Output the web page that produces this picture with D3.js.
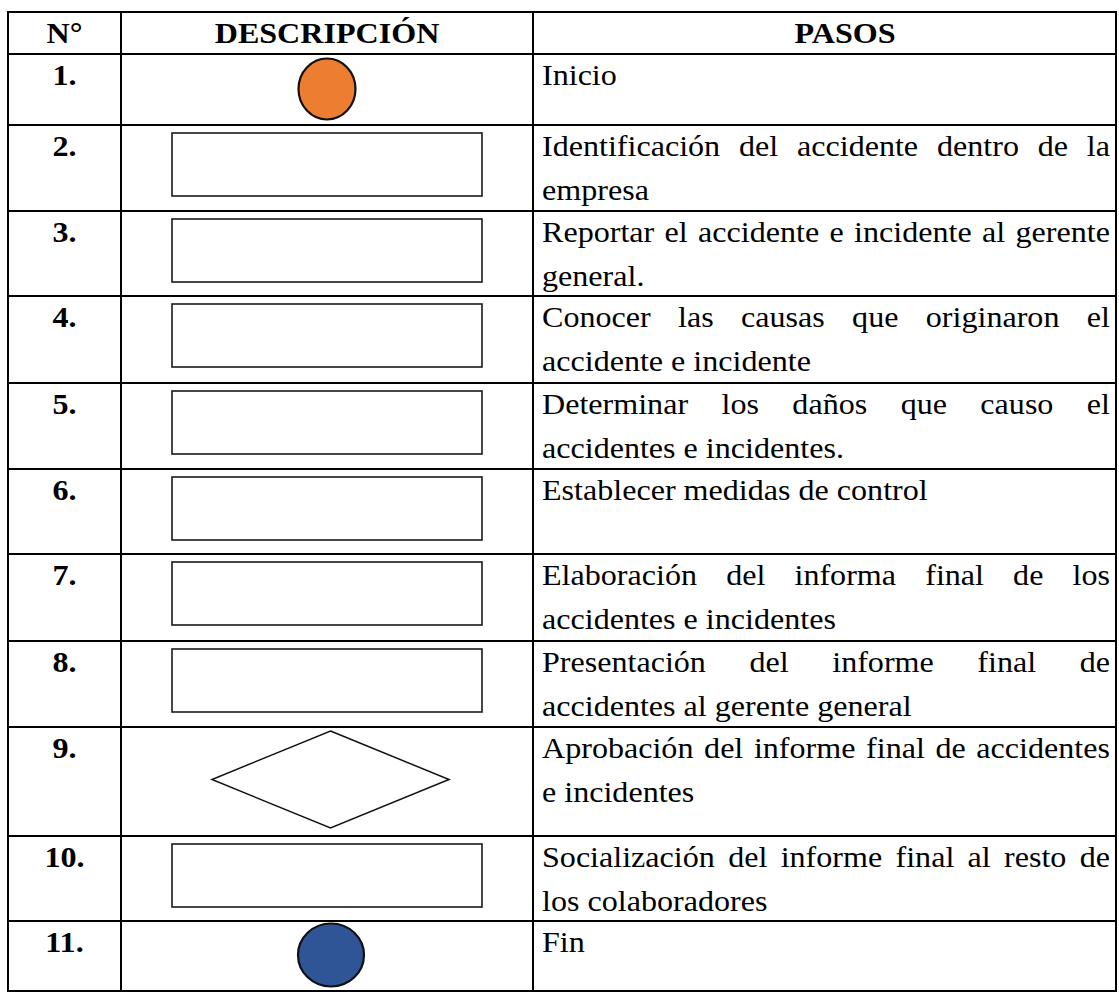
<!DOCTYPE html>
<html>
<head>
<meta charset="utf-8">
<script src="https://cdn.jsdelivr.net/npm/d3@7"></script>
<style>
  html, body { margin: 0; padding: 0; background: #ffffff; }
  svg { display: block; }
</style>
</head>
<body>
<div id="chart"></div>
<script>
// ---------------- DATA ----------------
const headers = ["N°", "DESCRIPCIÓN", "PASOS"];
const steps = ["1.", "2.", "3.", "4.", "5.", "6.", "7.", "8.", "9.", "10.", "11."];
const shapes = ["inicio", "proceso", "proceso", "proceso", "proceso", "proceso",
                "proceso", "proceso", "decision", "proceso", "fin"];
const pasos = [
  ["Inicio"],
  ["Identificación del accidente dentro de la", "empresa"],
  ["Reportar el accidente e incidente al gerente", "general."],
  ["Conocer las causas que originaron el", "accidente e incidente"],
  ["Determinar los daños que causo el", "accidentes e incidentes."],
  ["Establecer medidas de control"],
  ["Elaboración del informa final de los", "accidentes e incidentes"],
  ["Presentación del informe final de", "accidentes al gerente general"],
  ["Aprobación del informe final de accidentes", "e incidentes"],
  ["Socialización del informe final al resto de", "los colaboradores"],
  ["Fin"]
];

// ---------------- LAYOUT ----------------
const W = 1119, H = 992;
const FONT = "Liberation Serif";
const tableTop = 12;
const rowHeights = [42, 71, 86, 85, 87, 86, 85, 87, 86, 109, 85, 71];
const colEdges = [8, 121, 533, 1116];
const fontSize = 30;
const sx = 1.07;
const lineGap = 44;
const firstBase = 31;

const svg = d3.select("#chart").append("svg")
  .attr("width", W).attr("height", H);

const rowTops = [tableTop, ...Array.from(d3.cumsum(rowHeights), v => tableTop + v)];
const yRow = d3.scaleOrdinal().domain(d3.range(rowTops.length)).range(rowTops);
const x = d3.scaleOrdinal().domain([0, 1, 2, 3]).range(colEdges);

const colCenter = [(x(0) + x(1)) / 2, (x(1) + x(2)) / 2, 845];
const textX0 = x(2) + 9, textX1 = x(3) - 6;

// ---------- grid ----------
const grid = svg.append("g").attr("stroke", "#000").attr("stroke-width", 2);
rowTops.forEach(y => {
  const yy = Math.min(y, H - 1);
  grid.append("line").attr("x1", x(0) - 1).attr("x2", x(3) + 1).attr("y1", yy).attr("y2", yy);
});
[0, 1, 2, 3].forEach(i => {
  grid.append("line").attr("x1", x(i)).attr("x2", x(i))
    .attr("y1", tableTop - 1).attr("y2", H + 2);
});

// helper: measure natural width
const meas = svg.append("text").attr("font-family", FONT).attr("font-size", fontSize).attr("opacity", 0);
function widthOf(s, bold) {
  meas.attr("font-weight", bold ? "bold" : "normal").text(s);
  return meas.node().getComputedTextLength();
}

function addText(px, py, str, opts) {
  return svg.append("text")
    .attr("transform", `translate(${px},${py}) scale(${sx},1)`)
    .attr("font-family", FONT)
    .attr("font-size", fontSize)
    .attr("font-weight", opts && opts.bold ? "bold" : "normal")
    .attr("text-anchor", opts && opts.anchor ? opts.anchor : "start")
    .attr("fill", "#000")
    .text(str);
}

// ---------- header ----------
headers.forEach((h, i) => addText(colCenter[i], tableTop + 31, h, { bold: true, anchor: "middle" }));

// ---------- rows ----------
steps.forEach((s, i) => {
  const top = yRow(i + 1), bottom = yRow(i + 2);
  addText(colCenter[0], top + firstBase, s, { bold: true, anchor: "middle" });

  const cx = colCenter[1];
  const type = shapes[i];
  if (type === "inicio") {
    svg.append("ellipse")
      .attr("cx", cx).attr("cy", (top + bottom) / 2 - 0.5)
      .attr("rx", 28.5).attr("ry", 30.5)
      .attr("fill", "#ED7D31").attr("stroke", "#111").attr("stroke-width", 2.2);
  } else if (type === "fin") {
    svg.append("ellipse")
      .attr("cx", cx + 4).attr("cy", top + 34)
      .attr("rx", 33).attr("ry", 31.5)
      .attr("fill", "#2F5597").attr("stroke", "#111").attr("stroke-width", 2.2);
  } else if (type === "proceso") {
    svg.append("rect")
      .attr("x", 172).attr("y", top + 8)
      .attr("width", 310).attr("height", 63)
      .attr("fill", "#fff").attr("stroke", "#1a1a1a").attr("stroke-width", 1.6);
  } else if (type === "decision") {
    const dcx = cx + 3.5, dcy = (top + 4 + bottom - 8) / 2, hw = 118.5, hh = 48.5;
    svg.append("path")
      .attr("d", `M${dcx},${dcy - hh} L${dcx + hw},${dcy} L${dcx},${dcy + hh} L${dcx - hw},${dcy} Z`)
      .attr("fill", "#fff").attr("stroke", "#111").attr("stroke-width", 1.5);
  }

  const lines = pasos[i];
  lines.forEach((ln, j) => {
    const y = top + firstBase + j * lineGap;
    const justify = j < lines.length - 1;
    if (!justify) {
      addText(textX0, y, ln);
    } else {
      const t = addText(textX0, y, "");
      const words = ln.split(" ");
      const ws = words.map(w => widthOf(w, false));
      const target = (textX1 - textX0) / sx;
      const gap = (target - d3.sum(ws)) / (words.length - 1);
      let cur = 0;
      words.forEach((w, k) => {
        t.append("tspan").attr("x", cur).text(w);
        cur += ws[k] + gap;
      });
    }
  });
});
meas.remove();
</script>
</body>
</html>
